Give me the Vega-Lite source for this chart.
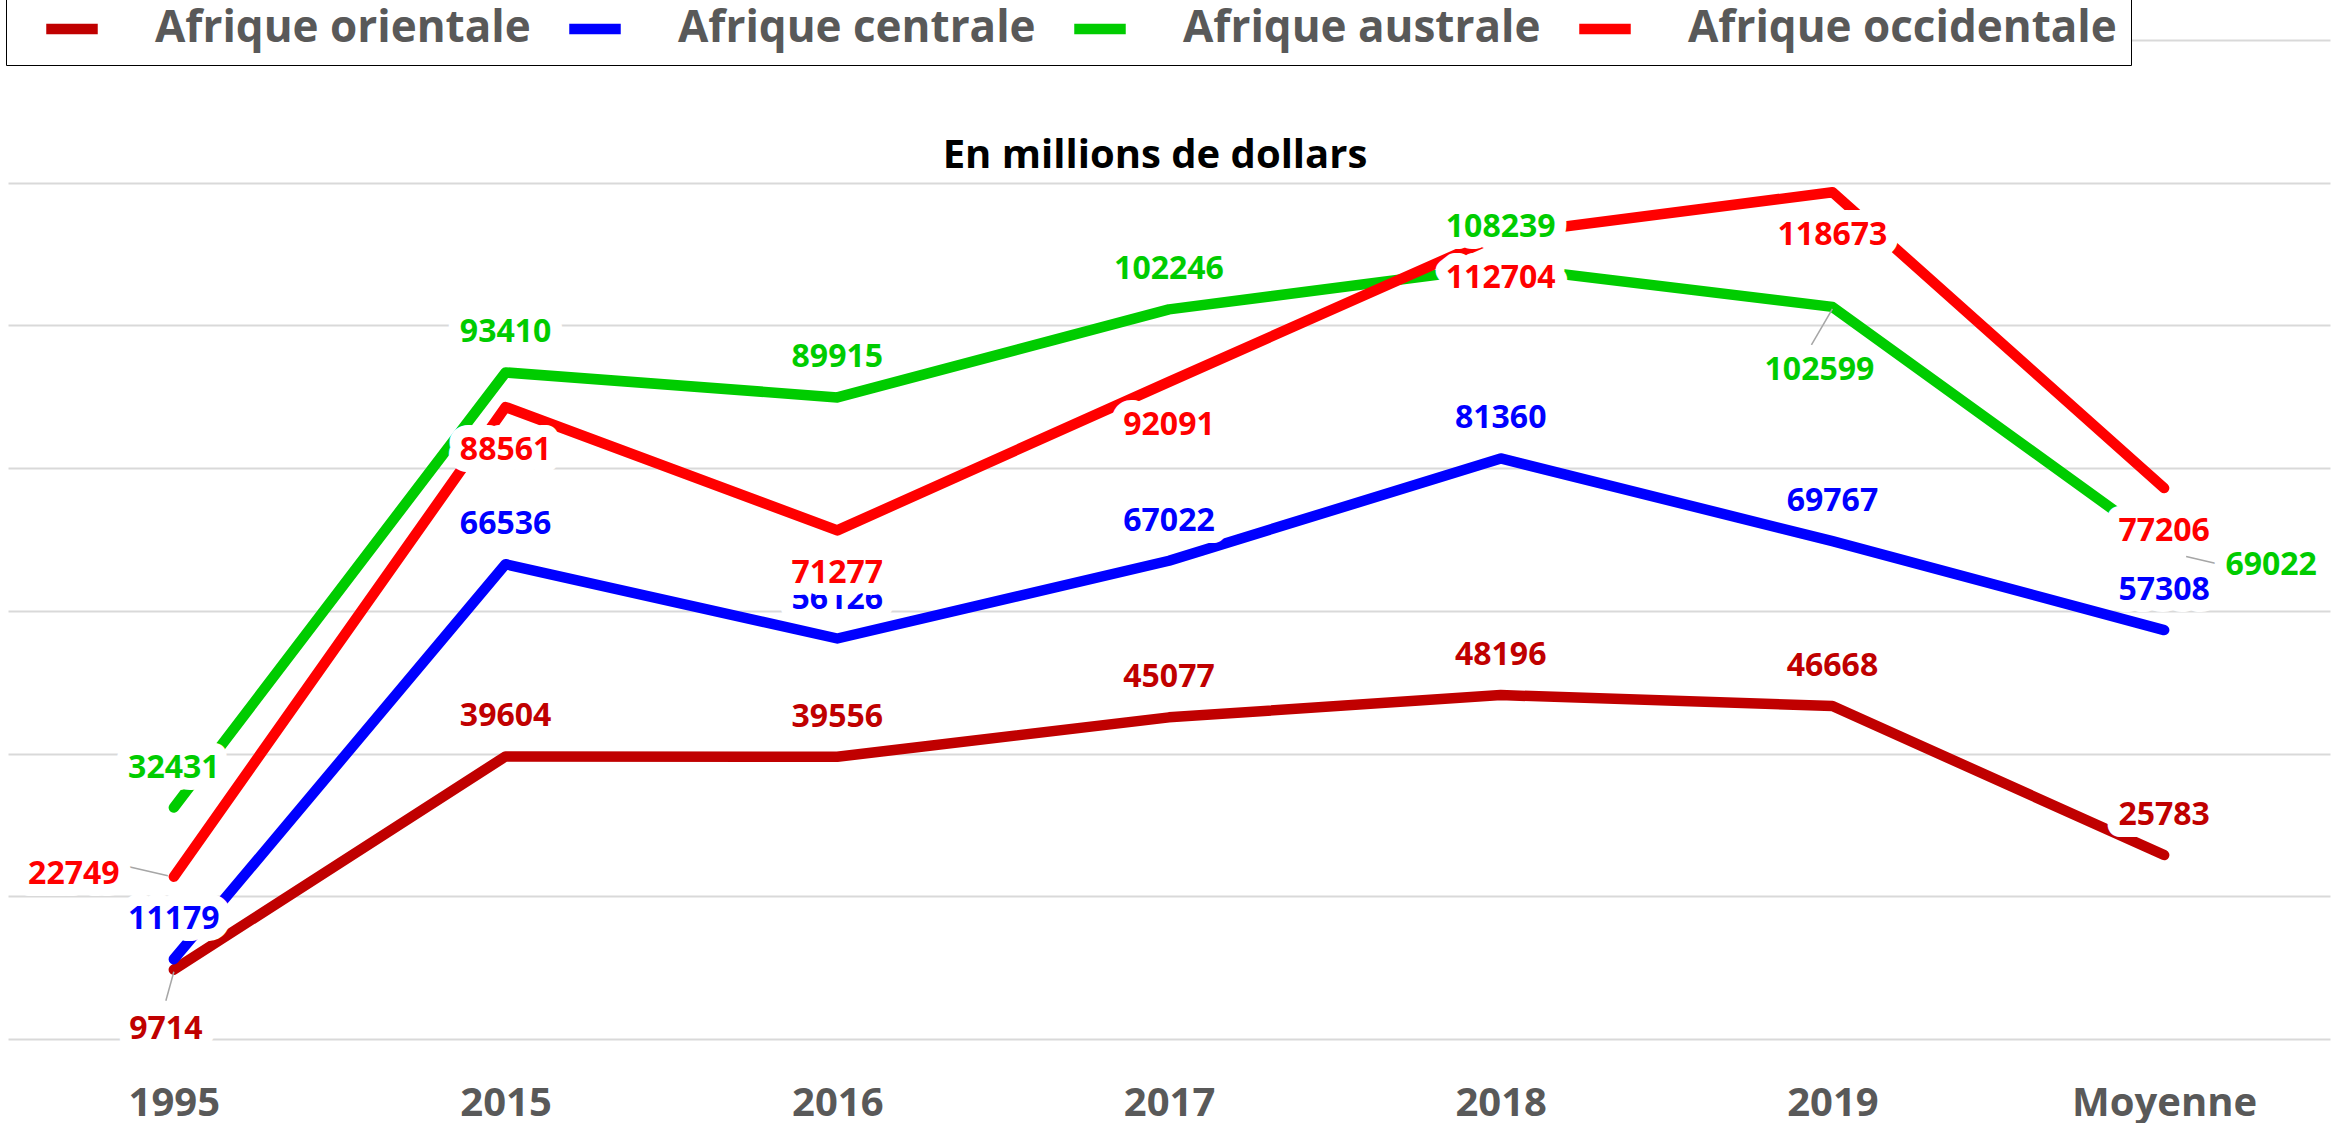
{
  "$schema": "https://vega.github.io/schema/vega-lite/v6.json",
  "autosize": {"type": "none"},
  "width": 2322,
  "height": 999,
  "padding": {"left": 8, "top": 40, "right": 1, "bottom": 84},
  "background": "white",
  "title": {"text": "En millions de dollars", "anchor": "middle", "font": "Open Sans", "fontSize": 40, "fontWeight": "bold", "color": "black", "offset": -192, "dx": -14},
  "data": {"values": [
    {"year": "1995", "series": "Afrique orientale", "value": 9714},
    {"year": "2015", "series": "Afrique orientale", "value": 39604},
    {"year": "2016", "series": "Afrique orientale", "value": 39556},
    {"year": "2017", "series": "Afrique orientale", "value": 45077},
    {"year": "2018", "series": "Afrique orientale", "value": 48196},
    {"year": "2019", "series": "Afrique orientale", "value": 46668},
    {"year": "Moyenne", "series": "Afrique orientale", "value": 25783},
    {"year": "1995", "series": "Afrique centrale", "value": 11179},
    {"year": "2015", "series": "Afrique centrale", "value": 66536},
    {"year": "2016", "series": "Afrique centrale", "value": 56126},
    {"year": "2017", "series": "Afrique centrale", "value": 67022},
    {"year": "2018", "series": "Afrique centrale", "value": 81360},
    {"year": "2019", "series": "Afrique centrale", "value": 69767},
    {"year": "Moyenne", "series": "Afrique centrale", "value": 57308},
    {"year": "1995", "series": "Afrique australe", "value": 32431},
    {"year": "2015", "series": "Afrique australe", "value": 93410},
    {"year": "2016", "series": "Afrique australe", "value": 89915},
    {"year": "2017", "series": "Afrique australe", "value": 102246},
    {"year": "2018", "series": "Afrique australe", "value": 108239},
    {"year": "2019", "series": "Afrique australe", "value": 102599},
    {"year": "Moyenne", "series": "Afrique australe", "value": 69022},
    {"year": "1995", "series": "Afrique occidentale", "value": 22749},
    {"year": "2015", "series": "Afrique occidentale", "value": 88561},
    {"year": "2016", "series": "Afrique occidentale", "value": 71277},
    {"year": "2017", "series": "Afrique occidentale", "value": 92091},
    {"year": "2018", "series": "Afrique occidentale", "value": 112704},
    {"year": "2019", "series": "Afrique occidentale", "value": 118673},
    {"year": "Moyenne", "series": "Afrique occidentale", "value": 77206}
  ]},
  "encoding": {
    "x": {"field": "year", "type": "ordinal", "sort": null,
      "scale": {"type": "point", "padding": 0.5},
      "axis": {"title": null, "ticks": false, "domain": false, "grid": false, "labelAngle": 0, "labelLimit": 0,
        "labelFont": "Open Sans", "labelFontSize": 40, "labelFontWeight": "bold", "labelColor": "#595959", "labelPadding": 44}},
    "y": {"field": "value", "type": "quantitative",
      "scale": {"domain": [0, 140000], "nice": false, "zero": true},
      "axis": {"title": null, "labels": false, "ticks": false, "domain": false, "grid": true,
        "gridColor": "#D9D9D9", "gridWidth": 2,
        "values": [0, 20000, 40000, 60000, 80000, 100000, 120000, 140000]}}
  },
  "layer": [
    {"transform": [{"filter": "datum.series === 'Afrique orientale'"}],
     "mark": {"type": "line", "strokeWidth": 10.5, "strokeCap": "round", "strokeJoin": "round"},
     "encoding": {"color": {"field": "series", "type": "nominal",
       "scale": {"domain": ["Afrique orientale", "Afrique centrale", "Afrique australe", "Afrique occidentale"], "range": ["#C00000", "#0000FF", "#00CC00", "#FF0000"]}}}},
    {"transform": [{"filter": "datum.series === 'Afrique centrale'"}],
     "mark": {"type": "line", "strokeWidth": 10.5, "strokeCap": "round", "strokeJoin": "round"},
     "encoding": {"color": {"field": "series", "type": "nominal",
       "scale": {"domain": ["Afrique orientale", "Afrique centrale", "Afrique australe", "Afrique occidentale"], "range": ["#C00000", "#0000FF", "#00CC00", "#FF0000"]}}}},
    {"transform": [{"filter": "datum.series === 'Afrique australe'"}],
     "mark": {"type": "line", "strokeWidth": 10.5, "strokeCap": "round", "strokeJoin": "round"},
     "encoding": {"color": {"field": "series", "type": "nominal",
       "scale": {"domain": ["Afrique orientale", "Afrique centrale", "Afrique australe", "Afrique occidentale"], "range": ["#C00000", "#0000FF", "#00CC00", "#FF0000"]}}}},
    {"transform": [{"filter": "datum.series === 'Afrique occidentale'"}],
     "mark": {"type": "line", "strokeWidth": 10.5, "strokeCap": "round", "strokeJoin": "round"},
     "encoding": {"color": {"field": "series", "type": "nominal",
       "scale": {"domain": ["Afrique orientale", "Afrique centrale", "Afrique australe", "Afrique occidentale"], "range": ["#C00000", "#0000FF", "#00CC00", "#FF0000"]}}}},

    {"transform": [{"filter": "(datum.series === 'Afrique orientale' && datum.year === '1995') || (datum.series === 'Afrique occidentale' && datum.year === '1995') || (datum.series === 'Afrique australe' && (datum.year === '2019' || datum.year === 'Moyenne'))"}],
     "mark": {"type": "rule", "stroke": "#A6A6A6", "strokeWidth": 1.5,
       "xOffset": {"expr": "datum.series === 'Afrique occidentale' ? -6 : datum.year === 'Moyenne' ? 22 : 0"},
       "yOffset": {"expr": "datum.series === 'Afrique occidentale' ? -1 : datum.year === 'Moyenne' ? 10 : 2"},
       "x2Offset": {"expr": "datum.series === 'Afrique occidentale' ? -45 : datum.year === 'Moyenne' ? 52 : datum.year === '2019' ? -21 : -8"},
       "y2Offset": {"expr": "datum.series === 'Afrique occidentale' ? -10 : datum.year === 'Moyenne' ? 17 : datum.year === '2019' ? 38 : 31"}},
     "encoding": {"x2": {"field": "year"}, "y2": {"field": "value"}}},

    {"transform": [{"filter": "datum.series === 'Afrique orientale'"}],
     "mark": {"type": "text", "font": "Open Sans", "fontSize": 32, "fontWeight": "bold", "fill": "white", "stroke": "white", "strokeWidth": 24, "strokeJoin": "round",
       "dx": {"expr": "datum.year === '1995' ? -8 : 0"}, "dy": {"expr": "datum.year === '1995' ? 59 : -40"}},
     "encoding": {"text": {"field": "value", "type": "quantitative", "format": "d"}}},
    {"transform": [{"filter": "datum.series === 'Afrique orientale'"}],
     "mark": {"type": "text", "font": "Open Sans", "fontSize": 32, "fontWeight": "bold", "fill": "#C00000",
       "dx": {"expr": "datum.year === '1995' ? -8 : 0"}, "dy": {"expr": "datum.year === '1995' ? 59 : -40"}},
     "encoding": {"text": {"field": "value", "type": "quantitative", "format": "d"}}},

    {"transform": [{"filter": "datum.series === 'Afrique centrale'"}],
     "mark": {"type": "text", "font": "Open Sans", "fontSize": 32, "fontWeight": "bold", "fill": "white", "stroke": "white", "strokeWidth": 24, "strokeJoin": "round", "dy": -40},
     "encoding": {"text": {"field": "value", "type": "quantitative", "format": "d"}}},
    {"transform": [{"filter": "datum.series === 'Afrique centrale'"}],
     "mark": {"type": "text", "font": "Open Sans", "fontSize": 32, "fontWeight": "bold", "fill": "#0000FF", "dy": -40},
     "encoding": {"text": {"field": "value", "type": "quantitative", "format": "d"}}},

    {"transform": [{"filter": "datum.series === 'Afrique australe'"}],
     "mark": {"type": "text", "font": "Open Sans", "fontSize": 32, "fontWeight": "bold", "fill": "white", "stroke": "white", "strokeWidth": 24, "strokeJoin": "round",
       "dx": {"expr": "datum.year === '2019' ? -13 : datum.year === 'Moyenne' ? 107 : 0"}, "dy": {"expr": "datum.year === '2019' ? 63 : datum.year === 'Moyenne' ? 19 : -40"}},
     "encoding": {"text": {"field": "value", "type": "quantitative", "format": "d"}}},
    {"transform": [{"filter": "datum.series === 'Afrique australe'"}],
     "mark": {"type": "text", "font": "Open Sans", "fontSize": 32, "fontWeight": "bold", "fill": "#00CC00",
       "dx": {"expr": "datum.year === '2019' ? -13 : datum.year === 'Moyenne' ? 107 : 0"}, "dy": {"expr": "datum.year === '2019' ? 63 : datum.year === 'Moyenne' ? 19 : -40"}},
     "encoding": {"text": {"field": "value", "type": "quantitative", "format": "d"}}},

    {"transform": [{"filter": "datum.series === 'Afrique occidentale'"}],
     "mark": {"type": "text", "font": "Open Sans", "fontSize": 32, "fontWeight": "bold", "fill": "white", "stroke": "white", "strokeWidth": 24, "strokeJoin": "round",
       "dx": {"expr": "datum.year === '1995' ? -100 : 0"}, "dy": {"expr": "datum.year === '1995' ? -3 : 43"}},
     "encoding": {"text": {"field": "value", "type": "quantitative", "format": "d"}}},
    {"transform": [{"filter": "datum.series === 'Afrique occidentale'"}],
     "mark": {"type": "text", "font": "Open Sans", "fontSize": 32, "fontWeight": "bold", "fill": "#FF0000",
       "dx": {"expr": "datum.year === '1995' ? -100 : 0"}, "dy": {"expr": "datum.year === '1995' ? -3 : 43"}},
     "encoding": {"text": {"field": "value", "type": "quantitative", "format": "d"}}}
  ],
  "config": {
    "view": {"stroke": null},
    "legend": {
      "orient": "none", "legendX": -2, "legendY": -56, "direction": "horizontal",
      "title": null, "symbolType": "stroke", "symbolSize": 2652, "symbolStrokeWidth": 10.5,
      "symbolOffset": 21, "labelOffset": 52, "columnPadding": 12,
      "labelFont": "Open Sans", "labelFontSize": 44, "labelFontWeight": "bold", "labelColor": "#595959", "labelLimit": 0,
      "padding": 14, "strokeColor": "black", "fillColor": "white",
      "encode": {"symbols": {"update": {"strokeCap": {"value": "round"}, "strokeWidth": {"value": 10.5}}}}
    }
  }
}
